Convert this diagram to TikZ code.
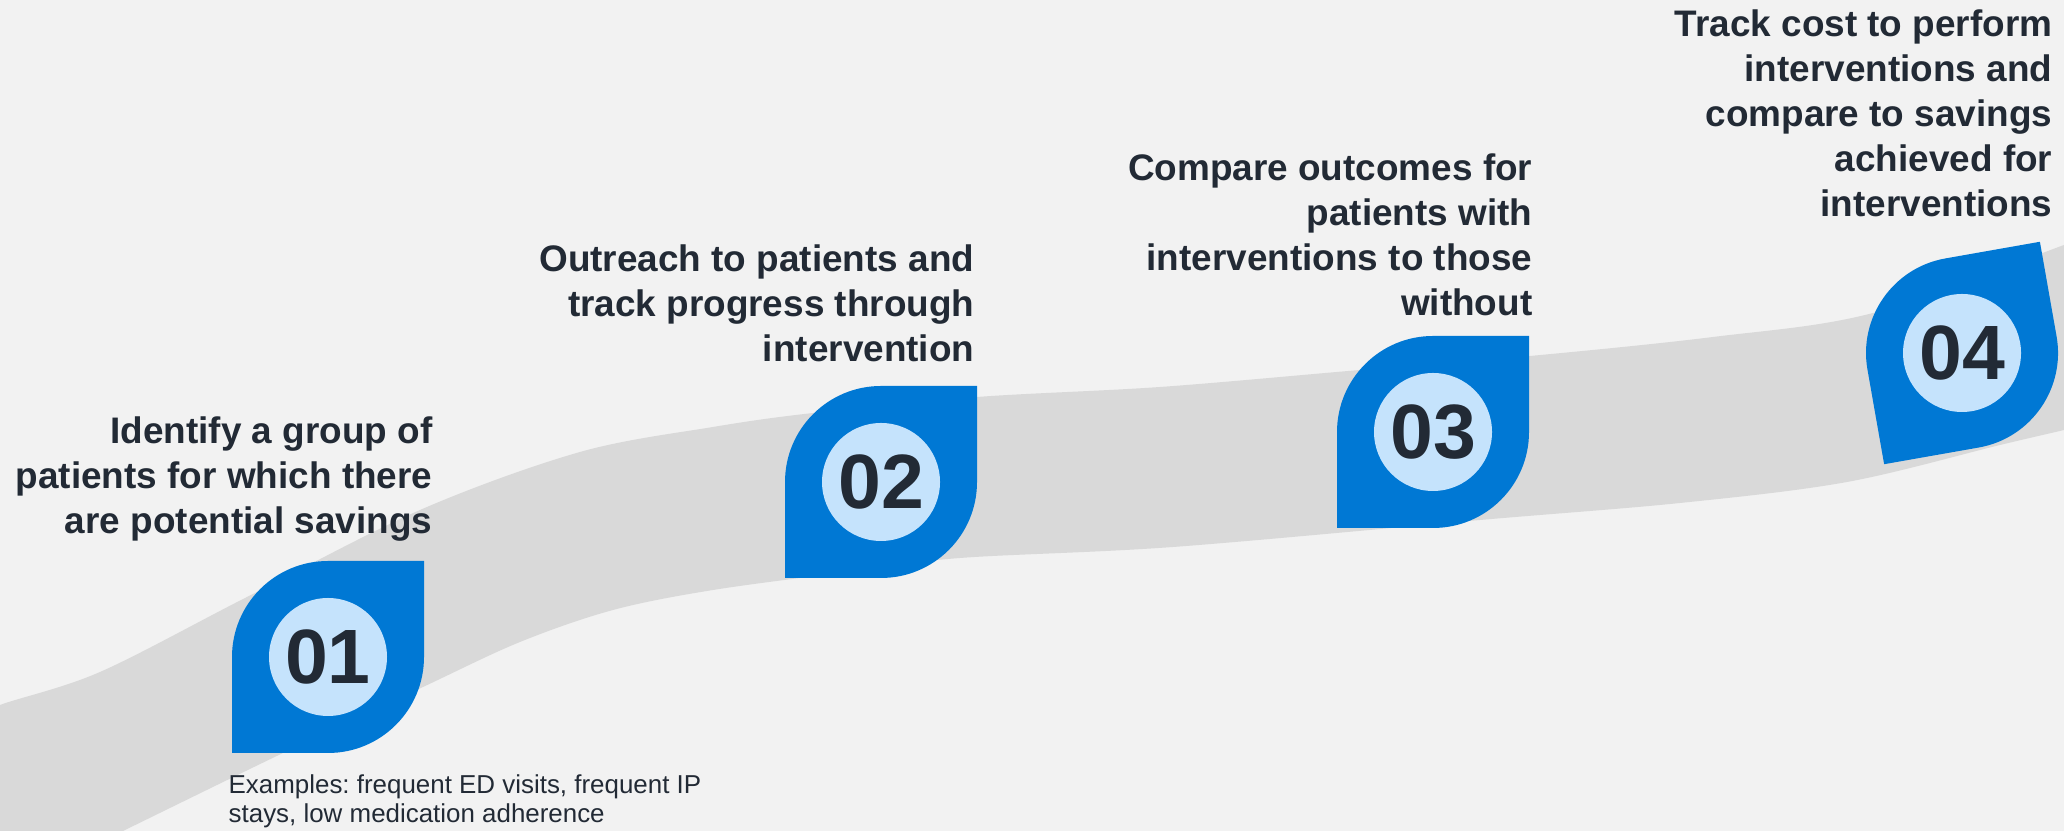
\documentclass[tikz,border=0pt]{standalone}
\usepackage{fontspec}
\setmainfont{Liberation Sans}
\frenchspacing

\definecolor{paper}{HTML}{F2F2F2}
\definecolor{road}{HTML}{D9D9D9}
\definecolor{pinblue}{HTML}{0078D4}
\definecolor{pinface}{HTML}{C5E3FC}
\definecolor{ink}{HTML}{222A35}

\begin{document}
\begin{tikzpicture}[x=0.01cm, y=0.01cm,
    steptitle/.style={anchor=north east, inner sep=0pt, align=right, text=ink,
      font=\bfseries\fontsize{10.5pt}{12.8pt}\selectfont},
    stepnum/.style={inner sep=0pt, text=ink,
      font=\bfseries\fontsize{21.9pt}{24pt}\selectfont}]
  \useasboundingbox (0,0) rectangle (2064,831);
  \fill[paper] (0,0) rectangle (2064,831);
  \clip (0,0) rectangle (2064,831);

  % grey road running up to the right
  \fill[road] plot[smooth, tension=0.55] coordinates {(-30,110) (0,126) (100,159) (247,234)
      (420,321) (580,379) (713,404) (813,418) (977,434) (1160,444) (1360,461) (1530,475)
      (1713,494) (1873,518) (2064,586) (2100,600)}
    -- plot[smooth, tension=0.55] coordinates {(2100,410) (2064,401) (2000,386) (1847,349)
      (1680,328) (1480,311) (1173,284) (960,273) (847,259) (713,241) (613,221) (520,189)
      (423,144) (283,78) (123,0) (-30,-75)}
    -- cycle;

  % the four pins
  \foreach \cx/\cy/\rot/\n in {328/174/0/01, 881/349/0/02, 1433/399/0/03, 1962/478/10/04} {
    \fill[pinblue, shift={(\cx,\cy)}, rotate=\rot]
      (96,96) -- (0,96) arc[start angle=90, end angle=180, radius=96]
      -- (-96,-96) -- (0,-96) arc[start angle=270, end angle=360, radius=96] -- cycle;
    \fill[pinface] (\cx,\cy) circle (59);
    \node[stepnum] (num\n) at (\cx,\cy) {\n};
  }

  \node[steptitle] (title01) at (433,415) {Identify a group of\\ patients for which there\\ are potential savings};
  \node[steptitle] (title02) at (975,587) {Outreach to patients and\\ track progress through\\ intervention};
  \node[steptitle] (title03) at (1533,678) {Compare outcomes for\\ patients with\\ interventions to those\\ without};
  \node[steptitle] (title04) at (2053,822) {Track cost to perform\\ interventions and\\ compare to savings\\ achieved for\\ interventions};

  \node[anchor=north west, inner sep=0pt, align=left, text=ink,
    font=\fontsize{7.37pt}{8.25pt}\selectfont] (examples) at (228,57)
    {Examples: frequent ED visits, frequent IP\\ stays, low medication adherence};
\end{tikzpicture}
\end{document}
